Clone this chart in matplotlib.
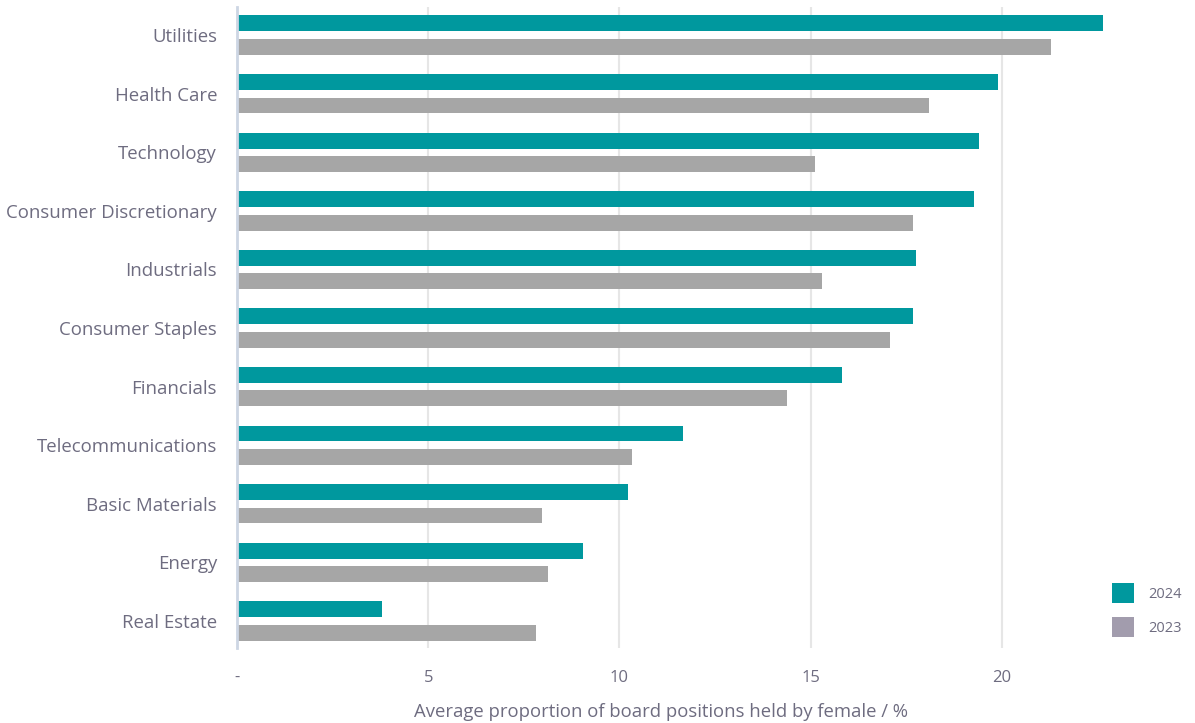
import matplotlib.pyplot as plt
from matplotlib.patches import Patch

plt.rcParams["font.family"] = ["Open Sans", "DejaVu Sans"]

sectors = [
    "Utilities",
    "Health Care",
    "Technology",
    "Consumer Discretionary",
    "Industrials",
    "Consumer Staples",
    "Financials",
    "Telecommunications",
    "Basic Materials",
    "Energy",
    "Real Estate",
]

values_2024 = [22.65, 19.90, 19.41, 19.27, 17.75, 17.67, 15.83, 11.66, 10.22, 9.05, 3.80]
values_2023 = [21.29, 18.09, 15.11, 17.69, 15.29, 17.08, 14.38, 10.33, 7.98, 8.13, 7.82]

x_ticks = [0, 5, 10, 15, 20]
x_tick_labels = ["-", "5", "10", "15", "20"]

teal = "#00989e"
grey = "#a6a6a6"
legend_grey = "#a29cad"
text_color = "#6e6c80"

fig = plt.figure(figsize=(11.95, 7.23), dpi=100)
ax = fig.add_axes([237 / 1195, 1 - 648 / 723, (1105 - 237) / 1195, (648 - 7) / 723])

pos = list(range(len(sectors)))

ax.barh(
    [p - 0.2 for p in pos],
    values_2024,
    height=0.27,
    color=teal,
    zorder=3
)

ax.barh(
    [p + 0.2 for p in pos],
    values_2023,
    height=0.27,
    color=grey,
    zorder=3
)

ax.set_ylim(10.46, -0.48)
ax.set_xlim(0, 22.7)

ax.set_yticks(pos)
ax.set_yticklabels(sectors, fontsize=13.4, color=text_color)

ax.set_xticks(x_ticks)
ax.set_xticklabels(x_tick_labels, fontsize=12, color=text_color)

ax.tick_params(axis="y", length=0, pad=14.4)
ax.tick_params(axis="x", length=0, pad=16)

ax.grid(axis="x", color="#e6e6e6", linewidth=1.5, zorder=0)

for side in ["top", "right", "bottom"]:
    ax.spines[side].set_visible(False)

ax.spines["left"].set_color("#cdd6e4")
ax.spines["left"].set_linewidth(2)
ax.spines["left"].set_zorder(4)

ax.set_xlabel(
    "Average proportion of board positions held by female / %",
    fontsize=13.3,
    color=text_color,
    labelpad=12
)
ax.xaxis.label.set_x(0.488)

handles = [
    Patch(facecolor=teal, edgecolor="none", label="2024"),
    Patch(facecolor=legend_grey, edgecolor="none", label="2023"),
]

fig.legend(
    handles=handles,
    loc="upper left",
    bbox_to_anchor=(1099 / 1195, 1 - 570 / 723),
    frameon=False,
    fontsize=10.5,
    labelcolor=text_color,
    handlelength=1.5,
    handleheight=1.7,
    handletextpad=1.0,
    labelspacing=1.0
)

fig.savefig("out.png", dpi=100)
